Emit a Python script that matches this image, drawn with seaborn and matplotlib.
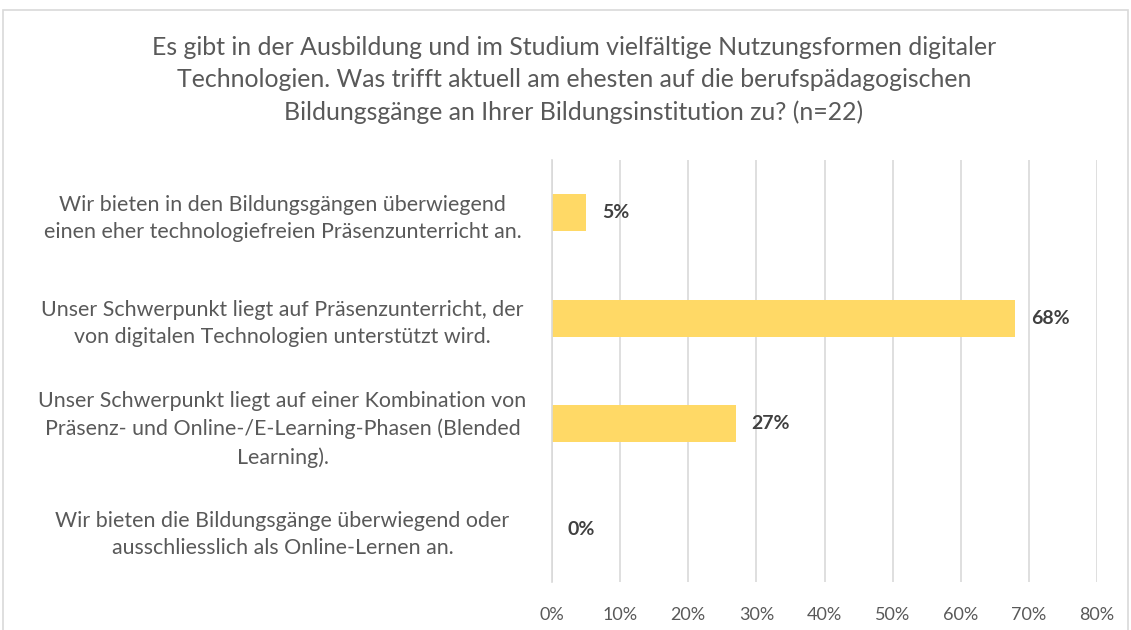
"""
Horizontal bar chart: Nutzungsformen digitaler Technologien (n=22).
"""

import matplotlib
matplotlib.use("Agg")
import matplotlib.pyplot as plt
import matplotlib.patches as mpatches
import pandas as pd
import seaborn as sns

# ---------------------------------------------------------------------------
# Data
# ---------------------------------------------------------------------------
TITLE = ("Es gibt in der Ausbildung und im Studium vielfältige Nutzungsformen digitaler\n"
         "Technologien. Was trifft aktuell am ehesten auf die berufspädagogischen\n"
         "Bildungsgänge an Ihrer Bildungsinstitution zu? (n=22)")

CATEGORIES = [
    "Wir bieten in den Bildungsgängen überwiegend\neinen eher technologiefreien Präsenzunterricht an.",
    "Unser Schwerpunkt liegt auf Präsenzunterricht, der\nvon digitalen Technologien unterstützt wird.",
    "Unser Schwerpunkt liegt auf einer Kombination von\nPräsenz- und Online-/E-Learning-Phasen (Blended\nLearning).",
    "Wir bieten die Bildungsgänge überwiegend oder\nausschliesslich als Online-Lernen an.",
]
SHARES = [5, 68, 27, 0]
X_TICKS = [0, 10, 20, 30, 40, 50, 60, 70, 80]

# ---------------------------------------------------------------------------
# Style
# ---------------------------------------------------------------------------
BAR_COLOR  = "#FFD966"
TEXT_COLOR = "#595959"
GRID_COLOR = "#D9D9D9"
W, H, DPI  = 1131, 630, 100

sns.set_theme(style="white")
plt.rcParams["font.family"] = ["Lato", "DejaVu Sans"]


def main():
    df = pd.DataFrame({"category": CATEGORIES, "share": SHARES})

    fig = plt.figure(figsize=(W / DPI, H / DPI), dpi=DPI)
    ax = fig.add_axes([552 / W, 1 - 582 / H, (1097 - 552) / W, (582 - 160) / H])

    sns.barplot(data=df, x="share", y="category", color=BAR_COLOR,
                width=0.35, saturation=1, linewidth=0, ax=ax, zorder=3)

    # axes cosmetics
    ax.set_xlim(0, 80)
    ax.set_xticks(X_TICKS)
    ax.set_xticklabels([f"{t}%" for t in X_TICKS], fontsize=13, color=TEXT_COLOR)
    ax.set_xlabel(""); ax.set_ylabel("")
    ax.grid(axis="x", color=GRID_COLOR, linewidth=1.2, zorder=0)
    for side in ["top", "right", "bottom"]:
        ax.spines[side].set_visible(False)
    ax.spines["left"].set_color(GRID_COLOR)
    ax.spines["left"].set_linewidth(1.2)
    ax.spines["left"].set_zorder(4)
    ax.tick_params(axis="x", length=0, pad=18)
    ax.tick_params(axis="y", length=0, pad=194)
    for lbl in ax.get_yticklabels():
        lbl.set_ha("center")
        lbl.set_multialignment("center")
        lbl.set_fontsize(15.4)
        lbl.set_color(TEXT_COLOR)
        lbl.set_linespacing(1.45)

    # data labels
    for bar, val in zip(ax.patches, SHARES):
        ax.text(bar.get_width() + 2.3, bar.get_y() + bar.get_height() / 2,
                f"{val}%", va="center", ha="left", fontsize=14,
                fontweight="bold", color="#404040")

    # title
    fig.text(574 / W, 1 - 80 / H, TITLE, ha="center", va="center",
             fontsize=17.9, color=TEXT_COLOR, linespacing=1.49)

    # chart border
    fig.patches.append(mpatches.Rectangle(
        (3 / W, -0.05), (1128 - 3) / W, 1.05 - 10 / H,
        transform=fig.transFigure, fill=False, edgecolor=GRID_COLOR, linewidth=1.2))

    fig.savefig("out.png", dpi=DPI, facecolor="white")
    plt.close(fig)


if __name__ == "__main__":
    main()
